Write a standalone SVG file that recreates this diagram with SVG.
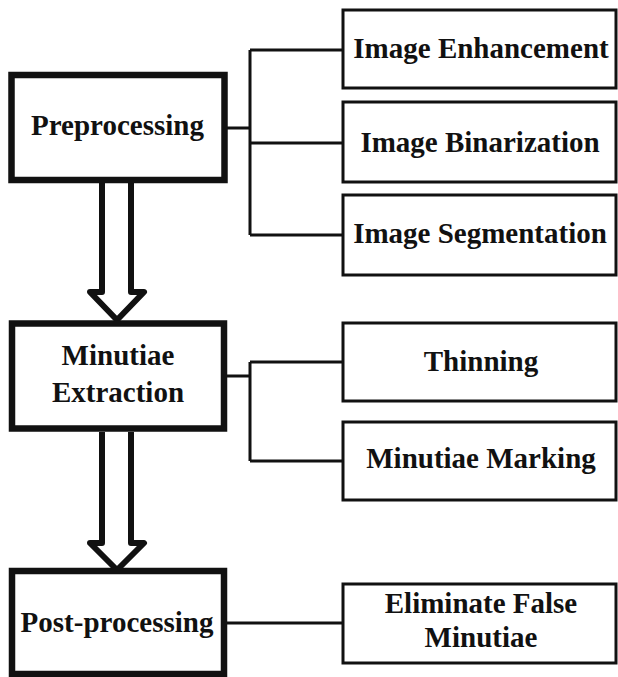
<svg xmlns="http://www.w3.org/2000/svg" width="618" height="677" viewBox="0 0 618 677">
<style>
.main{fill:#fff;stroke:#111;stroke-width:6.5}
.sub{fill:#fff;stroke:#111;stroke-width:3}
.con{fill:none;stroke:#111;stroke-width:3}
.arr{fill:#fff;stroke:#111;stroke-width:6;stroke-linejoin:round}
text{font-family:"Liberation Serif","Times New Roman",serif;font-weight:bold;font-size:29px;fill:#111;text-anchor:middle}
</style>
<rect width="618" height="677" fill="#fff"/>
<g id="connectors">
<path class="con" d="M224,128 H250 M250,50 V235 M250,50 H343 M250,143 H343 M250,235 H343"/>
<path class="con" d="M224,376 H250 M250,362 V461 M250,362 H343 M250,461 H343"/>
<path class="con" d="M224,623 H343"/>
<path class="arr" d="M102,183 V292 H90 L117,320 L144,292 H131 V183"/>
<path class="arr" d="M102,432 V543 H90 L117,570 L144,543 H131 V432"/>
</g>
<g id="preprocessing">
<rect class="main" x="11.5" y="75" width="213" height="105"/>
<text x="117.5" y="135">Preprocessing</text>
</g>
<g id="image-enhancement">
<rect class="sub" x="343" y="10" width="273" height="78"/>
<text x="481" y="58">Image Enhancement</text>
</g>
<g id="image-binarization">
<rect class="sub" x="343" y="102" width="273" height="80"/>
<text x="480" y="152">Image Binarization</text>
</g>
<g id="image-segmentation">
<rect class="sub" x="343" y="195" width="273" height="80"/>
<text x="480" y="243">Image Segmentation</text>
</g>
<g id="minutiae-extraction">
<rect class="main" x="12" y="323.5" width="212" height="105"/>
<text x="118" y="365">Minutiae</text>
<text x="118" y="402">Extraction</text>
</g>
<g id="thinning">
<rect class="sub" x="343" y="323" width="273" height="78"/>
<text x="481" y="371">Thinning</text>
</g>
<g id="minutiae-marking">
<rect class="sub" x="343" y="422" width="273" height="78"/>
<text x="481" y="468">Minutiae Marking</text>
</g>
<g id="post-processing">
<rect class="main" x="12" y="571" width="212" height="103"/>
<text x="117" y="632">Post-processing</text>
</g>
<g id="eliminate-false-minutiae">
<rect class="sub" x="343" y="584" width="273" height="79"/>
<text x="481" y="613">Eliminate False</text>
<text x="481" y="647">Minutiae</text>
</g>
</svg>
